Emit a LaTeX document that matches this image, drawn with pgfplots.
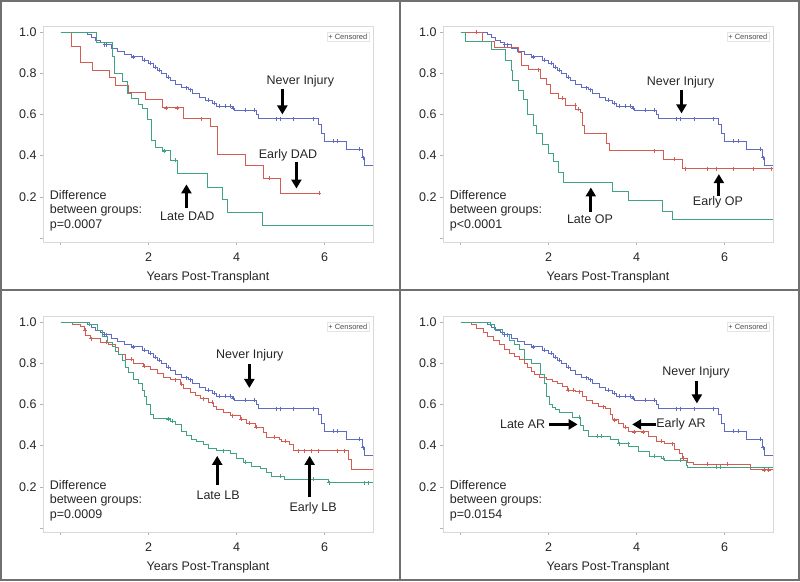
\documentclass[border=0pt]{standalone}
\usepackage{pgfplots}
\pgfplotsset{compat=1.18}
\usepackage{pgfplotstable}
\usepackage{fontspec}
\setmainfont{Liberation Sans}
\usetikzlibrary{arrows.meta}

\definecolor{niblue}{RGB}{96,108,196}
\definecolor{earlyred}{RGB}{212,92,80}
\definecolor{lategreen}{RGB}{64,164,132}
\definecolor{framegray}{RGB}{112,112,112}

% Never Injury curve, shared by all four panels
\pgfplotstableread{
x y
0 1.0
0.6 0.99
0.7 0.975
0.8 0.96
0.9 0.95
1.0 0.94
1.15 0.92
1.3 0.905
1.45 0.89
1.6 0.88
1.85 0.865
2.0 0.85
2.1 0.83
2.2 0.815
2.3 0.80
2.4 0.78
2.5 0.765
2.6 0.745
2.75 0.73
2.9 0.72
3.0 0.70
3.15 0.685
3.3 0.67
3.45 0.655
3.55 0.64
3.9 0.63
3.95 0.62
4.45 0.60
4.5 0.58
5.85 0.55
5.92 0.51
6.0 0.47
6.5 0.43
6.85 0.39
6.9 0.35
7.1 0.35
}\neverinj

\pgfplotstableread{
x y
1.0 0.94
1.05 0.94
1.65 0.88
1.9 0.865
2.05 0.85
2.15 0.83
2.25 0.815
2.45 0.78
2.85 0.73
2.95 0.72
3.35 0.67
3.5 0.655
3.6 0.64
3.75 0.64
3.85 0.64
3.92 0.63
4.2 0.62
4.4 0.62
4.9 0.58
5.0 0.58
5.3 0.58
5.75 0.58
6.2 0.47
6.3 0.47
6.8 0.43
6.88 0.39
}\nevercens

% Panel 1: DAD
\pgfplotstableread{
x y
0 1.0
0.25 0.93
0.45 0.855
0.72 0.812
1.1 0.78
1.25 0.743
1.55 0.708
1.93 0.672
2.31 0.632
2.8 0.579
3.41 0.54
3.56 0.406
4.2 0.351
4.62 0.29
5.0 0.218
5.87 0.218
}\earlydad
\pgfplotstableread{
x y
0 1.0
0.82 0.952
1.17 0.88
1.22 0.80
1.40 0.76
1.52 0.70
1.6 0.68
1.77 0.65
1.86 0.627
1.97 0.575
2.06 0.475
2.16 0.44
2.31 0.423
2.5 0.378
2.65 0.314
3.33 0.247
3.67 0.186
3.79 0.126
4.58 0.062
7.1 0.062
}\latedad

% Panel 2: OP
\pgfplotstableread{
x y
0 1.0
0.5 0.954
0.77 0.926
1.31 0.90
1.38 0.84
1.54 0.818
1.81 0.777
1.96 0.744
2.04 0.703
2.23 0.68
2.38 0.645
2.62 0.625
2.73 0.609
2.77 0.546
2.81 0.507
3.31 0.46
3.38 0.424
4.62 0.383
5.04 0.337
7.1 0.337
}\earlyop
\pgfplotstableread{
x y
0 1.0
0.12 0.955
0.69 0.914
1.02 0.863
1.15 0.815
1.18 0.766
1.31 0.716
1.42 0.675
1.52 0.60
1.65 0.546
1.73 0.51
1.87 0.455
2.0 0.41
2.12 0.37
2.23 0.32
2.33 0.27
3.46 0.226
3.81 0.18
4.58 0.13
4.81 0.089
7.1 0.089
}\lateop

% Panel 3: LB
\pgfplotstableread{
x y
0 1.0
0.26 0.99
0.45 0.98
0.53 0.96
0.57 0.935
0.68 0.92
0.9 0.902
1.09 0.89
1.25 0.878
1.32 0.845
1.47 0.82
1.66 0.80
1.89 0.785
2.04 0.768
2.19 0.75
2.34 0.73
2.49 0.72
2.72 0.698
2.79 0.677
2.94 0.66
3.06 0.645
3.17 0.628
3.36 0.61
3.47 0.592
3.55 0.575
3.70 0.56
3.85 0.545
4.08 0.527
4.23 0.51
4.42 0.49
4.60 0.465
4.68 0.442
4.98 0.43
5.02 0.42
5.21 0.404
5.28 0.376
6.53 0.334
6.6 0.282
7.1 0.282
}\earlylb
\pgfplotstableread{
x y
0 1.0
0.66 0.99
0.83 0.96
0.94 0.93
1.06 0.90
1.17 0.88
1.25 0.86
1.32 0.845
1.40 0.812
1.47 0.78
1.55 0.755
1.66 0.72
1.77 0.70
1.85 0.67
1.91 0.64
1.96 0.60
2.04 0.551
2.11 0.53
2.49 0.52
2.6 0.502
2.75 0.469
2.87 0.45
2.98 0.429
3.09 0.42
3.25 0.404
3.36 0.388
3.55 0.375
3.85 0.36
4.0 0.339
4.15 0.32
4.34 0.30
4.53 0.29
4.68 0.27
4.79 0.252
5.09 0.236
6.08 0.22
7.1 0.22
}\latelb

% Panel 4: AR
\pgfplotstableread{
x y
0 1.0
0.25 0.99
0.36 0.97
0.51 0.951
0.62 0.93
0.74 0.91
0.89 0.89
1.0 0.869
1.11 0.85
1.22 0.833
1.34 0.82
1.45 0.80
1.52 0.78
1.6 0.762
1.67 0.745
1.79 0.73
1.94 0.721
2.09 0.71
2.2 0.70
2.31 0.689
2.42 0.67
2.61 0.662
2.76 0.639
2.87 0.62
2.99 0.607
3.14 0.59
3.29 0.58
3.4 0.554
3.45 0.525
3.59 0.508
3.7 0.49
3.81 0.467
4.26 0.446
4.45 0.42
4.64 0.41
4.86 0.38
4.98 0.36
5.05 0.339
5.15 0.32
5.30 0.311
6.59 0.282
7.1 0.282
}\earlyar
\pgfplotstableread{
x y
0 1.0
0.68 0.99
0.77 0.964
0.96 0.94
1.11 0.91
1.22 0.89
1.34 0.869
1.45 0.82
1.6 0.80
1.82 0.745
1.9 0.70
1.95 0.639
2.01 0.598
2.09 0.585
2.16 0.574
2.24 0.561
2.54 0.538
2.72 0.50
2.8 0.475
2.91 0.446
3.4 0.43
3.59 0.41
3.81 0.398
4.04 0.374
4.3 0.349
4.56 0.34
4.64 0.328
5.13 0.303
5.16 0.295
7.1 0.295
}\latear

\pgfplotsset{
  km/.style={
    scale only axis, width=330pt, height=216pt,
    xmin=-0.4, xmax=7.1, ymin=-0.02, ymax=1.03,
    xtick={0,2,4,6}, xticklabels={,2,4,6},
    ytick={0,0.2,0.4,0.6,0.8,1.0}, yticklabels={,0.2,0.4,0.6,0.8,1.0},
    axis line style={gray!30},
    tick pos=left, tick align=outside, major tick length=3pt,
    tick style={gray!60, thin},
    tick label style={font=\fontsize{12.5}{14}\selectfont, text=black!85},
    xticklabel style={yshift=-4pt},
    xlabel={Years Post-Transplant},
    xlabel style={yshift=-3pt},
    label style={font=\fontsize{12.5}{14}\selectfont, text=black!85},
    every axis plot/.append style={line width=0.8pt},
  },
  cens/.style={only marks, mark=+, mark size=2pt, mark options={line width=0.6pt}},
}
\tikzset{
  bigarrow/.style={-{Triangle[width=10pt,length=9pt]}, line width=3pt, black},
  lab/.style={font=\fontsize{12.5}{14}\selectfont, text=black!85},
  diff/.style={font=\fontsize{12.5}{14.3}\selectfont, text=black!85, align=left,
    anchor=north west, inner sep=0pt},
  censbox/.style={font=\fontsize{7.5}{8}\selectfont, text=black!70, draw=gray!20,
    fill=white, inner sep=1.5pt, anchor=north east},
}

\begin{document}
\begin{tikzpicture}
\path[use as bounding box] (0,0) rectangle (800pt,581pt);

% ---- panel 1: DAD ----
\begin{axis}[km, at={(43pt,555pt)}, anchor=north west]
\addplot[const plot, niblue] table {\neverinj};
\addplot[const plot, earlyred] table {\earlydad};
\addplot[const plot, lategreen] table {\latedad};
\addplot[cens, niblue] table {\nevercens};
\addplot[cens, earlyred] coordinates {(2.4,0.632) (2.65,0.632) (3.2,0.579) (4.75,0.29) (5.87,0.218)};
\addplot[cens, lategreen] coordinates {(2.35,0.423) (2.6,0.378)};
\node[lab] at (axis cs:5.45,0.76) {Never Injury};
\draw[bigarrow] (axis cs:5.04,0.725) -- (axis cs:5.04,0.60);
\node[lab] at (axis cs:5.17,0.40) {Early DAD};
\draw[bigarrow] (axis cs:5.36,0.368) -- (axis cs:5.36,0.24);
\node[lab] at (axis cs:2.88,0.105) {Late DAD};
\draw[bigarrow] (axis cs:2.86,0.145) -- (axis cs:2.86,0.26);
\node[diff] at (axis cs:-0.25,0.232) {Difference\\between groups:\\p=0.0007};
\node[censbox] at (rel axis cs:0.988,0.972) {+ Censored};
\end{axis}

% ---- panel 2: OP ----
\begin{axis}[km, at={(443pt,555pt)}, anchor=north west]
\addplot[const plot, niblue] table {\neverinj};
\addplot[const plot, earlyred] table {\earlyop};
\addplot[const plot, lategreen] table {\lateop};
\addplot[cens, niblue] table {\nevercens};
\addplot[cens, earlyred] coordinates {(0.35,1.0) (1.77,0.818) (2.3,0.68) (2.6,0.645) (2.68,0.625) (4.4,0.424) (4.85,0.383) (5.1,0.337) (5.6,0.337) (5.8,0.337) (6.2,0.337) (6.65,0.337) (7.05,0.337)};
\node[lab] at (axis cs:5.0,0.757) {Never Injury};
\draw[bigarrow] (axis cs:5.02,0.72) -- (axis cs:5.02,0.605);
\node[lab] at (axis cs:5.85,0.172) {Early OP};
\draw[bigarrow] (axis cs:5.87,0.205) -- (axis cs:5.87,0.31);
\node[lab] at (axis cs:2.94,0.089) {Late OP};
\draw[bigarrow] (axis cs:2.96,0.127) -- (axis cs:2.96,0.245);
\node[diff] at (axis cs:-0.25,0.232) {Difference\\between groups:\\p<0.0001};
\node[censbox] at (rel axis cs:0.988,0.972) {+ Censored};
\end{axis}

% ---- panel 3: LB ----
\begin{axis}[km, at={(43pt,265pt)}, anchor=north west]
\addplot[const plot, niblue] table {\neverinj};
\addplot[const plot, earlyred] table {\earlylb};
\addplot[const plot, lategreen] table {\latelb};
\addplot[cens, niblue] table {\nevercens};
\addplot[cens, earlyred] coordinates {(0.55,0.96) (0.7,0.92) (1.05,0.902) (1.6,0.82) (1.9,0.785) (2.6,0.72) (2.75,0.698) (3.25,0.628) (3.45,0.61) (3.9,0.545) (4.1,0.527) (4.3,0.51) (4.45,0.49) (4.85,0.442) (5.1,0.42) (5.4,0.376) (5.55,0.376) (5.7,0.376) (5.85,0.376) (6.3,0.376) (6.45,0.376)};
\addplot[cens, lategreen] coordinates {(0.66,0.99) (2.45,0.53) (2.55,0.52) (3.7,0.375) (4.2,0.32) (5.0,0.252) (5.75,0.236) (6.1,0.22) (6.9,0.22) (7.0,0.22)};
\node[lab] at (axis cs:4.3,0.837) {Never Injury};
\draw[bigarrow] (axis cs:4.29,0.796) -- (axis cs:4.29,0.68);
\node[lab] at (axis cs:5.74,0.097) {Early LB};
\draw[bigarrow] (axis cs:5.66,0.148) -- (axis cs:5.66,0.35);
\node[lab] at (axis cs:3.58,0.159) {Late LB};
\draw[bigarrow] (axis cs:3.56,0.208) -- (axis cs:3.56,0.35);
\node[diff] at (axis cs:-0.25,0.232) {Difference\\between groups:\\p=0.0009};
\node[censbox] at (rel axis cs:0.988,0.972) {+ Censored};
\end{axis}

% ---- panel 4: AR ----
\begin{axis}[km, at={(443pt,265pt)}, anchor=north west]
\addplot[const plot, niblue] table {\neverinj};
\addplot[const plot, earlyred] table {\earlyar};
\addplot[const plot, lategreen] table {\latear};
\addplot[cens, niblue] table {\nevercens};
\addplot[cens, earlyred] coordinates {(2.45,0.67) (2.55,0.67) (2.7,0.662) (3.25,0.59) (3.5,0.525) (3.75,0.49) (3.95,0.467) (4.15,0.467) (4.55,0.42) (4.8,0.41) (5.05,0.339) (5.6,0.311) (6.05,0.311) (6.9,0.282) (7.0,0.282)};
\addplot[cens, lategreen] coordinates {(0.68,0.99) (2.69,0.538) (3.1,0.446) (3.2,0.446) (3.6,0.41) (3.8,0.41) (4.4,0.349) (4.6,0.34) (5.0,0.328) (5.8,0.295) (5.9,0.295)};
\node[lab] at (axis cs:5.35,0.757) {Never Injury};
\draw[bigarrow] (axis cs:5.37,0.715) -- (axis cs:5.37,0.605);
\node[lab] at (axis cs:1.41,0.503) {Late AR};
\draw[bigarrow] (axis cs:2.01,0.503) -- (axis cs:2.66,0.503);
\node[lab] at (axis cs:5.01,0.503) {Early AR};
\draw[bigarrow] (axis cs:4.45,0.503) -- (axis cs:3.9,0.503);
\node[diff] at (axis cs:-0.25,0.232) {Difference\\between groups:\\p=0.0154};
\node[censbox] at (rel axis cs:0.988,0.972) {+ Censored};
\end{axis}

% panel frames
\draw[framegray, line width=1.8pt] (0.9pt,0.9pt) rectangle (799.1pt,580.1pt);
\draw[framegray, line width=1.8pt] (400pt,0.9pt) -- (400pt,580.1pt);
\draw[framegray, line width=1.8pt] (0.9pt,291pt) -- (799.1pt,291pt);
\end{tikzpicture}
\end{document}
